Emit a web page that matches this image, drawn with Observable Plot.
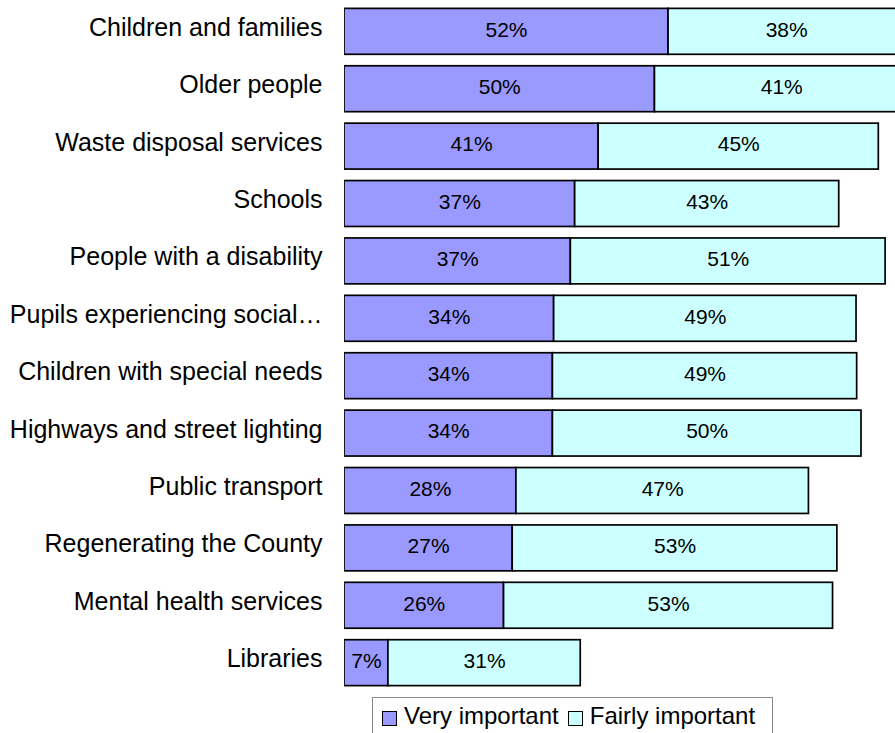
<!DOCTYPE html>
<html>
<head>
<meta charset="utf-8">
<script src="https://cdn.jsdelivr.net/npm/d3@7"></script>
<script src="https://cdn.jsdelivr.net/npm/@observablehq/plot@0.6"></script>
<style>
  html, body { margin: 0; padding: 0; background: #fff; overflow: hidden; }
  #chart svg { display: block; }
  .legend {
    position: absolute; left: 372px; top: 697px; width: 401px; height: 44px;
    border: 1px solid #8a8a8a; box-sizing: border-box;
    font-family: "Liberation Sans", Arial, sans-serif; font-size: 24px; color: #000;
    display: flex; align-items: flex-start; padding-top: 4px; padding-left: 9px;
  }
  .legend .item { display: flex; align-items: center; margin-right: 9px; }
  .legend .sw { width: 15px; height: 15px; border: 1.5px solid #000; margin-right: 7px; box-sizing: border-box; position: relative; top: 2px; }
</style>
</head>
<body>
<div id="chart"></div>
<div class="legend" id="legend"></div>
<script>
const categories = [
  "Children and families",
  "Older people",
  "Waste disposal services",
  "Schools",
  "People with a disability",
  "Pupils experiencing social…",
  "Children with special needs",
  "Highways and street lighting",
  "Public transport",
  "Regenerating the County",
  "Mental health services",
  "Libraries"
];
const seriesNames = ["Very important", "Fairly important"];
const veryImportant   = [52.4, 50.2, 41.1, 37.3, 36.6, 33.9, 33.7, 33.7, 27.8, 27.2, 25.8, 7.1];
const fairlyImportant = [38.2, 41.0, 45.3, 42.7, 50.9, 48.9, 49.2, 49.9, 47.3, 52.5, 53.2, 31.1];
const colors = ["#9999ff", "#ccffff"];

const rows = [];
categories.forEach((c, i) => {
  rows.push({category: c, series: seriesNames[0], value: veryImportant[i]});
  rows.push({category: c, series: seriesNames[1], value: fairlyImportant[i]});
});

const chart = Plot.plot({
  width: 895,
  height: 694,
  marginLeft: 344,
  marginRight: 0,
  marginTop: 0,
  marginBottom: 0,
  style: {fontFamily: "'Liberation Sans', Arial, sans-serif", background: "#fff", overflow: "hidden"},
  x: {domain: [0, 89.1], axis: null},
  y: {domain: categories, paddingInner: 0.2, paddingOuter: 0.146, round: false, label: null},
  color: {domain: seriesNames, range: colors},
  marks: [
    Plot.barX(rows, Plot.stackX({
      x: "value", y: "category", fill: "series", order: seriesNames,
      stroke: "#000", strokeWidth: 1.7, clip: true
    })),
    Plot.text(rows, Plot.stackX({
      x: "value", y: "category", z: "series", order: seriesNames,
      text: d => Math.round(d.value) + "%",
      fontSize: 21, fill: "#000", dy: -2
    })),
    Plot.axisY({tickSize: 0, tickPadding: 22, fontSize: 25, dy: -4, textAnchor: "end", label: null, fill: "#000"})
  ]
});
document.getElementById("chart").appendChild(chart);

const legend = document.getElementById("legend");
seriesNames.forEach((s, i) => {
  const item = document.createElement("div");
  item.className = "item";
  const sw = document.createElement("span");
  sw.className = "sw";
  sw.style.background = colors[i];
  const t = document.createElement("span");
  t.textContent = s;
  item.appendChild(sw);
  item.appendChild(t);
  legend.appendChild(item);
});
</script>
</body>
</html>
